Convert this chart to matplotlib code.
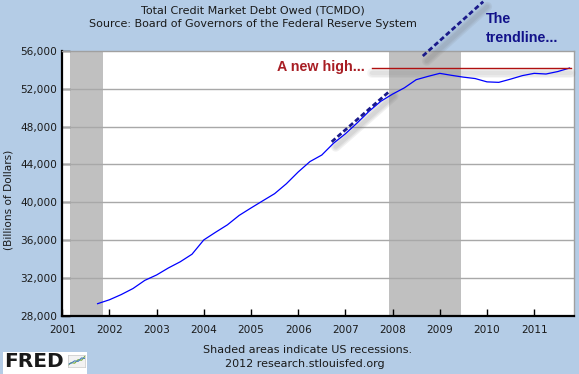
import matplotlib
matplotlib.use("Agg")
import matplotlib.pyplot as plt
import matplotlib.transforms as mtransforms
import numpy as np
import pandas as pd

# ---- data ----
quarters = pd.date_range("2001-10-01", periods=41, freq="QS")
debt = [29300, 29710, 30260, 30900, 31760, 32330, 33070, 33720, 34520, 36030,
        36840, 37620, 38620, 39400, 40160, 40910, 41960, 43200, 44300, 44990,
        46240, 47230, 48380, 49600, 50660, 51420, 52080, 52940, 53290, 53610,
        53400, 53210, 53060, 52710, 52660, 53000, 53370, 53610, 53540, 53800,
        54170]
recessions = [(2001.17, 2001.86), (2007.92, 2009.44)]
year_ticks = list(range(2001, 2012))
y_ticks = [28000, 32000, 36000, 40000, 44000, 48000, 52000, 56000]
trend_lower_x = [2006.71, 2007.94]
trend_lower_y = [46385, 51742]
trend_upper_x = [2008.64, 2009.92]
trend_upper_y = [55440, 61177]
new_high_x = [2007.56, 2011.77]
logo_green = [0.1, 0.35, 0.3, 0.6, 0.55, 0.9]
logo_blue = [0.2, 0.3, 0.5, 0.45, 0.75, 0.7]

x = np.array([d.year + (d.month - 1) / 12 for d in quarters])

BG = "#B4CCE6"
fig = plt.figure(figsize=(5.79, 3.74), dpi=100, facecolor=BG)
ax = fig.add_axes([62.2 / 579, 1 - 316 / 374, (574.3 - 62.2) / 579, (316 - 50.7) / 374])
ax.set_facecolor("white")

for a, b in recessions:
    ax.axvspan(a, b, color="#C0C0C0", lw=0, zorder=1)

for v in y_ticks[1:-1]:
    ax.axhline(v, color="#A8A8A8", lw=1, zorder=2)

ax.plot(x, debt, color="#0000FF", lw=0.9, zorder=4)


def soft_shadow(xs, ys, dx, dy, widths, alpha):
    tr = mtransforms.offset_copy(ax.transData, fig=fig, x=dx, y=dy, units="dots")
    for w in widths:
        ax.plot(xs, ys, color="#707070", lw=w, alpha=alpha, transform=tr,
                solid_capstyle="round", zorder=3.5, clip_on=False)


soft_shadow(trend_lower_x, trend_lower_y, 4, -5, [7, 5, 3], 0.10)
soft_shadow(trend_upper_x, trend_upper_y, 4, -5, [7, 5, 3], 0.10)
soft_shadow(new_high_x, [debt[-1], debt[-1]], 0, -5, [7, 5, 3], 0.07)

ax.plot(trend_lower_x, trend_lower_y, color="#1A1A8A", lw=2.0, ls=(0, (1.8, 1.0)),
        zorder=5, clip_on=False)
ax.plot(trend_upper_x, trend_upper_y, color="#1A1A8A", lw=2.0, ls=(0, (1.8, 1.0)),
        zorder=5, clip_on=False)
ax.plot(new_high_x, [debt[-1], debt[-1]], color="#B01010", lw=1.0, zorder=5)
ax.text(2007.40, 53890, "A new high...", color="#A81E24", fontsize=10.3,
        fontweight="bold", family="Liberation Sans", ha="right", va="baseline", zorder=6)

ax.set_xlim(2001.0, 2011.85)
ax.set_ylim(28000, 56000)
ax.set_xticks(year_ticks)
ax.set_xticklabels([str(y) for y in year_ticks])
ax.set_yticks(y_ticks)
ax.set_yticklabels([f"{v:,}" for v in y_ticks])
ax.tick_params(axis="x", direction="in", length=5, width=1, color="black",
               labelsize=7.6, labelcolor="#1A1A1A", pad=6.5)
ax.tick_params(axis="y", direction="in", length=6, width=1, color="black",
               labelsize=7.6, labelcolor="#1A1A1A", pad=3.6)
for s in ["left", "bottom"]:
    ax.spines[s].set_color("black")
    ax.spines[s].set_linewidth(1.6)
for s in ["top", "right"]:
    ax.spines[s].set_color("#A0A0A0")
    ax.spines[s].set_linewidth(1)

fig.text(253 / 579, 1 - 10.7 / 374, "Total Credit Market Debt Owed (TCMDO)",
         ha="center", va="center", fontsize=8, color="#1A1A1A")
fig.text(253 / 579, 1 - 24.3 / 374, "Source: Board of Governors of the Federal Reserve System",
         ha="center", va="center", fontsize=8, color="#1A1A1A")
fig.text(8.3 / 579, 1 - 199.5 / 374, "(Billions of Dollars)", rotation=90,
         ha="center", va="center", fontsize=7.6, color="#1A1A1A")
fig.text(308 / 579, 1 - 350 / 374, "Shaded areas indicate US recessions.",
         ha="center", va="center", fontsize=8, color="#1A1A1A")
fig.text(305 / 579, 1 - 364 / 374, "2012 research.stlouisfed.org",
         ha="center", va="center", fontsize=8, color="#1A1A1A")

fig.text(486 / 579, 1 - 23.3 / 374, "The", color="#12128A", fontsize=10.3,
         fontweight="bold", family="Liberation Sans", ha="left", va="baseline")
fig.text(486 / 579, 1 - 41.7 / 374, "trendline...", color="#12128A", fontsize=10.3,
         fontweight="bold", family="Liberation Sans", ha="left", va="baseline")

# FRED logo
fig.patches.append(plt.Rectangle((2.5 / 579, 0), (87.3 - 2.5) / 579, (374 - 351.7) / 374,
                                 transform=fig.transFigure, facecolor="white",
                                 edgecolor="none", zorder=-1))
fig.text(4 / 579, 1 - 367.3 / 374, "FRED", fontsize=14.5, fontweight="heavy",
         color="#1A1A1A", ha="left", va="baseline")
lax = fig.add_axes([67.7 / 579, 1 - 366.7 / 374, (85 - 67.7) / 579, (366.7 - 355) / 374])
lax.set_facecolor("#F2F2F2")
lax.plot(np.linspace(0, 1, len(logo_green)), logo_green, color="#7AAE3A", lw=0.8)
lax.plot(np.linspace(0, 1, len(logo_blue)), logo_blue, color="#4A7FC0", lw=0.8)
lax.set_xlim(0, 1)
lax.set_ylim(0, 1)
lax.set_xticks([])
lax.set_yticks([])
for s in lax.spines.values():
    s.set_color("#C8C8C8")
    s.set_linewidth(0.5)

fig.savefig("out.png", dpi=100, facecolor=BG)
